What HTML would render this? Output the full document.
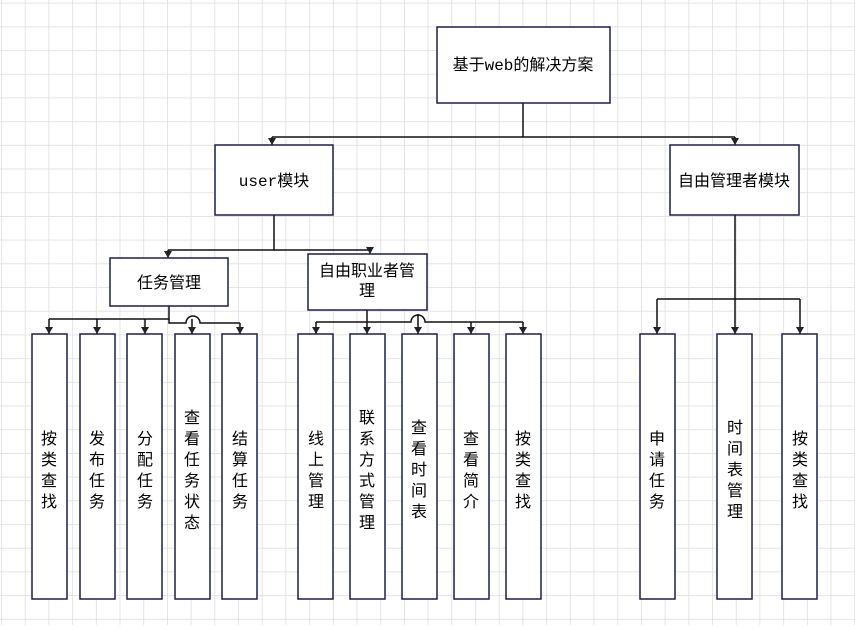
<!DOCTYPE html>
<html><head><meta charset="utf-8"><style>
html,body{margin:0;padding:0;background:#fff}
svg text{font-family:"Liberation Mono","Noto Sans CJK SC",sans-serif;font-size:16px;fill:#000}
</style></head><body>
<svg width="855" height="625" xmlns="http://www.w3.org/2000/svg">
<defs>
<pattern id="g" x="1.1" y="2.7" width="23.7" height="23.7" patternUnits="userSpaceOnUse">
<path d="M0 0H23.7M0 0V23.7" stroke="#dcdcdc" stroke-width="1.5" fill="none"/>
</pattern>
<marker id="a" markerWidth="10" markerHeight="10" refX="4" refY="8" orient="0" markerUnits="userSpaceOnUse">
<path d="M0 1L8 1L4 8Z" fill="#222"/>
</marker>
</defs>
<rect width="855" height="625" fill="url(#g)"/>
<g stroke="#111" stroke-width="1.5" fill="none">
<path d="M523 103V137"/><path d="M272 137H735"/>
<path d="M272 137V145" marker-end="url(#a)"/><path d="M735 137V145" marker-end="url(#a)"/>
<path d="M274 215V250H168"/><path d="M274 250H370"/>
<path d="M168 250V258" marker-end="url(#a)"/><path d="M370 250V254" marker-end="url(#a)"/>
<path d="M169 306V319H49"/>
<path d="M49 319V334" marker-end="url(#a)"/><path d="M97 319V334" marker-end="url(#a)"/><path d="M145 319V334" marker-end="url(#a)"/>
<path d="M169 319V323H186A7 7 0 0 1 200 323H240"/>
<path d="M192 319V334" marker-end="url(#a)"/><path d="M240 323V334" marker-end="url(#a)"/>
<path d="M367 310V334" marker-end="url(#a)"/>
<path d="M316 322H411A7 7 0 0 1 425 322H523"/>
<path d="M316 322V334" marker-end="url(#a)"/><path d="M418 314V334" marker-end="url(#a)"/>
<path d="M471 322V334" marker-end="url(#a)"/><path d="M523 322V334" marker-end="url(#a)"/>
<path d="M735 215V334" marker-end="url(#a)"/><path d="M657 299H800"/>
<path d="M657 299V334" marker-end="url(#a)"/><path d="M800 299V334" marker-end="url(#a)"/>
</g>
<g stroke="#1a1f4d" stroke-width="1.5" fill="#fff">
<rect x="437" y="27" width="173" height="76"/>
<rect x="215" y="145" width="118" height="70"/>
<rect x="670" y="145" width="129" height="70"/>
<rect x="110" y="258" width="118" height="48"/>
<rect x="308" y="254" width="119" height="56"/>
<rect x="32" y="334" width="35" height="265"/><rect x="80" y="334" width="35" height="265"/>
<rect x="127" y="334" width="35" height="265"/><rect x="175" y="334" width="35" height="265"/>
<rect x="222" y="334" width="35" height="265"/>
<rect x="298" y="334" width="35" height="265"/><rect x="350" y="334" width="35" height="265"/>
<rect x="402" y="334" width="35" height="265"/><rect x="454" y="334" width="35" height="265"/>
<rect x="506" y="334" width="35" height="265"/>
<rect x="640" y="334" width="35" height="265"/><rect x="717" y="334" width="35" height="265"/>
<rect x="782" y="334" width="35" height="265"/>
</g>
<g text-anchor="middle">
<text x="523" y="70">基于web的解决方案</text>
<text x="274" y="186">user模块</text>
<text x="734" y="186">自由管理者模块</text>
<text x="169" y="288">任务管理</text>
<text x="367" y="276">自由职业者管</text>
<text x="367" y="296">理</text>
</g>
<g text-anchor="middle" font-size="16">
<text x="49" y="444">按</text><text x="49" y="465">类</text><text x="49" y="486">查</text><text x="49" y="507">找</text>
<text x="97" y="444">发</text><text x="97" y="465">布</text><text x="97" y="486">任</text><text x="97" y="507">务</text>
<text x="145" y="444">分</text><text x="145" y="465">配</text><text x="145" y="486">任</text><text x="145" y="507">务</text>
<text x="192" y="423">查</text><text x="192" y="444">看</text><text x="192" y="465">任</text><text x="192" y="486">务</text><text x="192" y="507">状</text><text x="192" y="528">态</text>
<text x="240" y="444">结</text><text x="240" y="465">算</text><text x="240" y="486">任</text><text x="240" y="507">务</text>
<text x="316" y="444">线</text><text x="316" y="465">上</text><text x="316" y="486">管</text><text x="316" y="507">理</text>
<text x="367" y="423">联</text><text x="367" y="444">系</text><text x="367" y="465">方</text><text x="367" y="486">式</text><text x="367" y="507">管</text><text x="367" y="528">理</text>
<text x="419" y="433">查</text><text x="419" y="454">看</text><text x="419" y="475">时</text><text x="419" y="496">间</text><text x="419" y="517">表</text>
<text x="471" y="444">查</text><text x="471" y="465">看</text><text x="471" y="486">简</text><text x="471" y="507">介</text>
<text x="523" y="444">按</text><text x="523" y="465">类</text><text x="523" y="486">查</text><text x="523" y="507">找</text>
<text x="657" y="444">申</text><text x="657" y="465">请</text><text x="657" y="486">任</text><text x="657" y="507">务</text>
<text x="735" y="433">时</text><text x="735" y="454">间</text><text x="735" y="475">表</text><text x="735" y="496">管</text><text x="735" y="517">理</text>
<text x="800" y="444">按</text><text x="800" y="465">类</text><text x="800" y="486">查</text><text x="800" y="507">找</text>
</g>
</svg>
</body></html>
